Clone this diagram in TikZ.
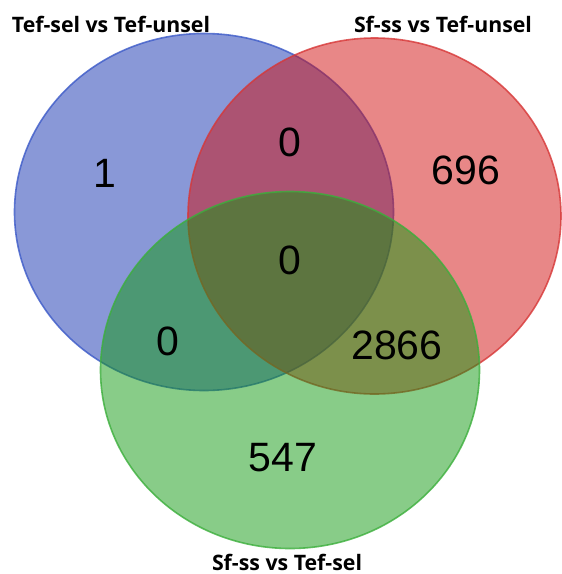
\documentclass[tikz,border=0pt]{standalone}
\usepackage{fontspec}
\setmainfont{Liberation Sans}
\newfontfamily\labelfont{Open Sans}
\definecolor{cblue}{RGB}{19,49,175}
\definecolor{cred}{RGB}{209,15,15}
\definecolor{cgreen}{RGB}{17,153,17}
\definecolor{eblue}{RGB}{60,90,200}
\definecolor{ered}{RGB}{215,55,55}
\definecolor{egreen}{RGB}{60,175,60}
\begin{document}
\begin{tikzpicture}[x=1pt,y=-1pt,
  setbox/.style={fill opacity=0.5, draw opacity=0.8, line width=1.6pt},
  count/.style={font=\fontsize{41}{45}\selectfont, text=black, inner sep=0pt},
  setlabel/.style={font=\labelfont\bfseries\fontsize{21.3}{25}\selectfont, text=black, inner sep=0pt, anchor=base}]
\useasboundingbox (0,0) rectangle (562,574);
\coordinate (A) at (204,212);
\coordinate (B) at (374.5,216);
\coordinate (C) at (290,370);
\path[setbox, fill=cblue, draw=eblue] (A) ellipse [x radius=189.5, y radius=178.5];
\path[setbox, fill=cred, draw=ered] (B) ellipse [x radius=186.5, y radius=178];
\path[setbox, fill=cgreen, draw=egreen] (C) ellipse [x radius=189.5, y radius=178.5];
\node[setlabel] (la) at (111,32) {Tef-sel vs Tef-unsel};
\node[setlabel] (lb) at (443,32) {Sf-ss vs Tef-unsel};
\node[setlabel] (lc) at (287,570) {Sf-ss vs Tef-sel};
\node[count] (n1) at (105,173) {1};
\node[count] (n2) at (290,142) {0};
\node[count] (n3) at (466,170) {696};
\node[count] (n4) at (290,260) {0};
\node[count] (n5) at (168,341) {0};
\node[count] (n6) at (397,345) {2866};
\node[count] (n7) at (283,458) {547};
\end{tikzpicture}
\end{document}
